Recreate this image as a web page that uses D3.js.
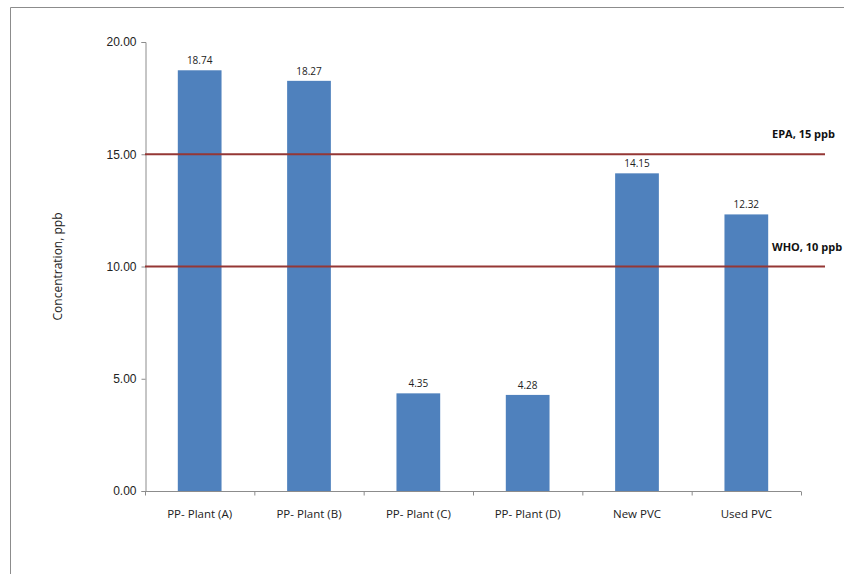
<!DOCTYPE html>
<html>
<head>
<meta charset="utf-8">
<script src="https://cdn.jsdelivr.net/npm/d3@7"></script>
<style>
  body { margin: 0; background: #fff; }
  svg { font-family: "Open Sans", "Noto Sans", sans-serif; }
</style>
</head>
<body>
<div id="chart"></div>
<script>
// data
const categories = ["PP- Plant (A)", "PP- Plant (B)", "PP- Plant (C)", "PP- Plant (D)", "New PVC", "Used PVC"];
const values = [18.74, 18.27, 4.35, 4.28, 14.15, 12.32];
const yTicks = [0, 5, 10, 15, 20];
const limits = [
    { value: 15, label: "EPA, 15 ppb" },
    { value: 10, label: "WHO, 10 ppb" }
];

const width = 844,
    height = 574,
    margin = { top: 42, right: 43, bottom: 83, left: 145 };

const svg = d3.select("#chart")
    .append("svg")
    .attr("width", width)
    .attr("height", height);

// outer frame (right and bottom edges fall off the picture)
svg.append("path")
    .attr("d", `M10.5,${height + 5} V7.5 H${width + 5}`)
    .attr("fill", "none")
    .attr("stroke", "#8c8c8c")
    .attr("stroke-width", 1);

// scales
const xScale = d3.scaleBand()
    .domain(categories)
    .range([margin.left, width - margin.right])
    .paddingInner(0.6)
    .paddingOuter(0.3);

const xEdges = d3.scaleBand()
    .domain(categories)
    .range([margin.left, width - margin.right]);

const yScale = d3.scaleLinear()
    .domain([0, 20])
    .range([height - margin.bottom, margin.top]);

// y axis
const yAxis = svg.append("g")
    .attr("transform", `translate(${margin.left + 0.5}, 0)`)
    .call(d3.axisLeft(yScale).tickValues(yTicks).tickFormat(d3.format(".2f")).tickSize(4).tickPadding(5));
yAxis.select(".domain").attr("stroke", "#8c8c8c");
yAxis.selectAll(".tick line").attr("stroke", "#8c8c8c");
yAxis.selectAll("text").attr("font-size", 12).attr("fill", "#222");

// x axis with ticks at band edges
const xAxisG = svg.append("g")
    .attr("transform", `translate(0, ${height - margin.bottom + 0.5})`);
xAxisG.append("line")
    .attr("x1", margin.left).attr("x2", width - margin.right)
    .attr("stroke", "#8c8c8c");
const edges = categories.map(c => xEdges(c)).concat([width - margin.right]);
xAxisG.selectAll(".edge")
    .data(edges)
    .enter()
    .append("line")
    .attr("x1", d => d + 0.5).attr("x2", d => d + 0.5)
    .attr("y1", 0).attr("y2", 4)
    .attr("stroke", "#8c8c8c");
xAxisG.selectAll(".cat")
    .data(categories)
    .enter()
    .append("text")
    .attr("x", d => xEdges(d) + xEdges.bandwidth() / 2)
    .attr("y", 26)
    .attr("text-anchor", "middle")
    .attr("font-size", 11.5)
    .attr("fill", "#222")
    .text(d => d);

// bars
svg.selectAll(".bar")
    .data(values)
    .enter()
    .append("rect")
    .attr("class", "bar")
    .attr("x", (d, i) => xScale(categories[i]))
    .attr("y", d => yScale(d))
    .attr("width", xScale.bandwidth())
    .attr("height", d => yScale(0) - yScale(d))
    .attr("fill", "#4f81bd");

// value labels
svg.selectAll(".val")
    .data(values)
    .enter()
    .append("text")
    .attr("x", (d, i) => xScale(categories[i]) + xScale.bandwidth() / 2)
    .attr("y", d => yScale(d) - 6)
    .attr("text-anchor", "middle")
    .attr("font-size", 10)
    .attr("fill", "#222")
    .text(d => d.toFixed(2));

// limit lines
svg.selectAll(".limit")
    .data(limits)
    .enter()
    .append("line")
    .attr("x1", margin.left)
    .attr("x2", 825)
    .attr("y1", d => yScale(d.value))
    .attr("y2", d => yScale(d.value))
    .attr("stroke", "#953735")
    .attr("stroke-width", 2);

svg.selectAll(".limitLabel")
    .data(limits)
    .enter()
    .append("text")
    .attr("x", 772)
    .attr("y", d => yScale(d.value) - 16)
    .attr("font-size", 11)
    .attr("font-weight", "bold")
    .attr("fill", "#111")
    .text(d => d.label);

// y label
svg.append("text")
    .attr("transform", `translate(62, ${yScale(10)}) rotate(-90)`)
    .attr("text-anchor", "middle")
    .attr("font-size", 12)
    .attr("fill", "#222")
    .text("Concentration, ppb");
</script>
</body>
</html>
